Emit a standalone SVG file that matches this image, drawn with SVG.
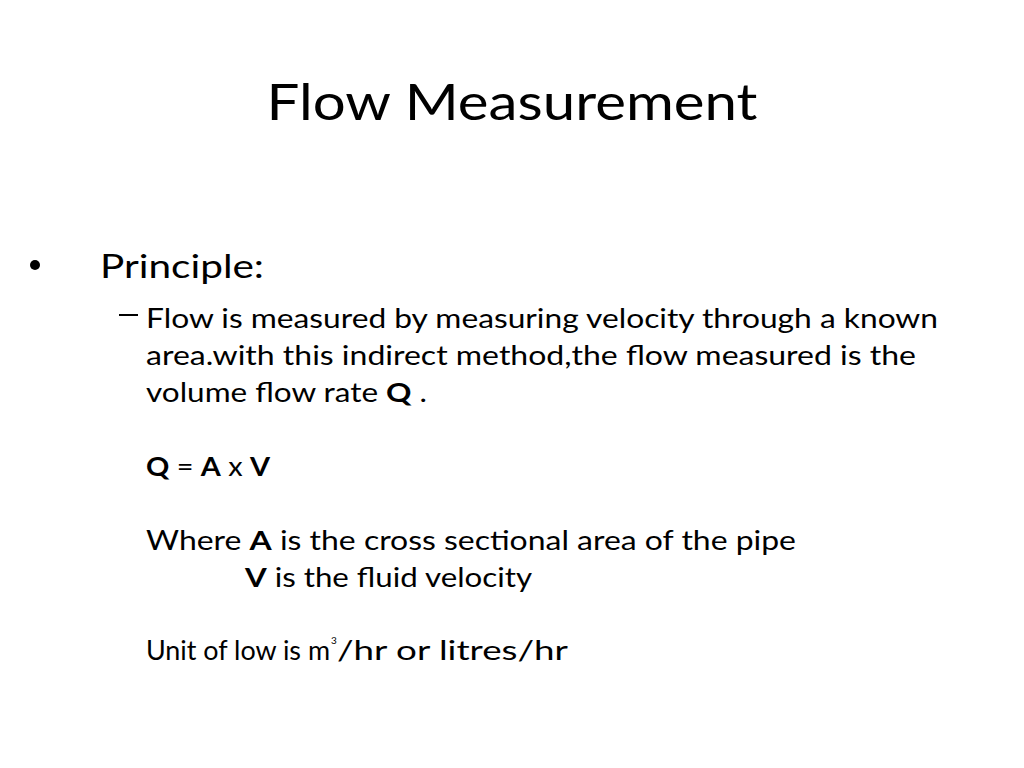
<svg xmlns="http://www.w3.org/2000/svg" width="1024" height="768" viewBox="0 0 1024 768">
<style>
text{font-family:Lato,"Open Sans","Liberation Sans",sans-serif;fill:#000}
.b{font-weight:bold}
.s{font-size:26px}
</style>
<rect width="1024" height="768" fill="#fff"/>
<text x="512" y="120" font-size="50" text-anchor="middle" textLength="491" lengthAdjust="spacingAndGlyphs">Flow Measurement</text>
<circle cx="35" cy="265" r="5"/>
<text x="100" y="278" font-size="32" textLength="164" lengthAdjust="spacingAndGlyphs">Principle:</text>
<rect x="119" y="314" width="19" height="2"/>
<text x="146" y="328" class="s" textLength="792" lengthAdjust="spacingAndGlyphs">Flow is measured by measuring velocity through a known</text>
<text x="146" y="365" class="s" textLength="770" lengthAdjust="spacingAndGlyphs">area.with this indirect method,the flow measured is the</text>
<text x="146" y="402" class="s" textLength="281" lengthAdjust="spacingAndGlyphs">volume flow rate <tspan class="b">Q</tspan> .</text>
<text x="146" y="476" class="s" textLength="124" lengthAdjust="spacingAndGlyphs"><tspan class="b">Q</tspan> = <tspan class="b">A</tspan> x <tspan class="b">V</tspan></text>
<text x="146" y="550" class="s" textLength="650" lengthAdjust="spacingAndGlyphs">Where  <tspan class="b">A</tspan> is the cross sectional area of the pipe</text>
<text x="245" y="587" class="s" textLength="287" lengthAdjust="spacingAndGlyphs"><tspan class="b">V</tspan> is the fluid velocity</text>
<text x="146" y="660" class="s" textLength="184" lengthAdjust="spacingAndGlyphs">Unit of low is m</text>
<text x="331" y="644" font-size="10">3</text>
<text x="337" y="660" class="s" textLength="231" lengthAdjust="spacingAndGlyphs">/hr or litres/hr</text>
</svg>
